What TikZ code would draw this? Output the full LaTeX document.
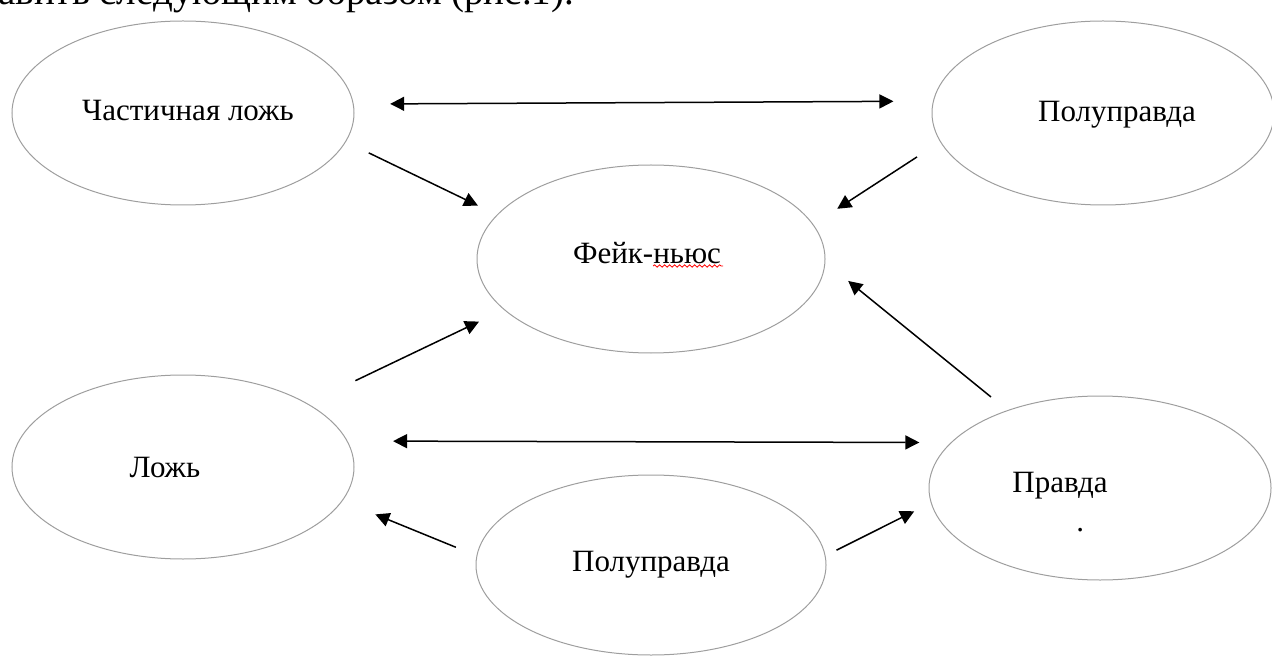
\documentclass[tikz,border=0pt]{standalone}
\usepackage{fontspec}
\setmainfont{Liberation Serif}
\usetikzlibrary{shapes.geometric, arrows.meta, decorations.pathmorphing}

\tikzset{
    oval/.style={ellipse, draw=black!38, line width=0.5pt, minimum width=171pt, minimum height=92pt, inner sep=0pt, outer sep=0pt},
    link/.style={-{Triangle[length=7pt, width=7pt]}, line width=0.75pt},
    both/.style={{Triangle[length=7pt, width=7pt]}-{Triangle[length=7pt, width=7pt]}, line width=0.75pt},
}

\begin{document}
\begin{tikzpicture}[x=0.5pt, y=-0.5pt, font=\fontsize{15.5}{19.5}\selectfont]
    \useasboundingbox (0,0) rectangle (1272,657);
    \clip (0,0) rectangle (1272,657);
    \node[anchor=base west, inner sep=0pt, font=\fontsize{19.5}{22}\selectfont] (intro) at (-2,5) {авить следующим образом (рис.1).};
    \node[oval, label={[xshift=2.5pt, yshift=1pt]center:Частичная ложь}] (chast) at (183,113) {};
    \node[oval, label={[xshift=7pt, yshift=-1pt]center:Полуправда}] (poluTop) at (1103,113) {};
    \node[oval, minimum width=174pt, minimum height=94pt, label={[xshift=-2pt, yshift=3pt]center:Фейк-ньюс}] (fake) at (651,259) {};
    \node[oval, label={[xshift=-9pt]center:Ложь}] (lozh) at (183,467) {};
    \node[oval, label={[xshift=-20pt, yshift=-7pt, align=left]center:Правда\\\hspace*{32pt}.}] (pravda) at (1100,488) {};
    \node[oval, minimum width=175pt, minimum height=90pt] (poluBot) at (651,565) {Полуправда};
    \draw[red, line width=0.4pt, decorate, decoration={snake, amplitude=0.6pt, segment length=2.5pt}] (653,266) -- (723,266);
    \draw[both, shorten <=18.5pt, shorten >=20pt] (chast.3.4) -- (poluTop.176.6);
    \draw[link, shorten <=12.9pt, shorten >=10.75pt] (chast.-10.9) -- (fake.164.5);
    \draw[link, shorten <=14pt, shorten >=14.5pt] (poluTop.-170.7) -- (fake.12.7);
    \draw[link, shorten <=26.75pt, shorten >=14pt] (lozh.27.1) -- (fake.-161.9);
    \draw[link, shorten <=10.8pt, shorten >=15pt] (pravda.140.7) -- (fake.-1.7);
    \draw[both, shorten <=23pt, shorten >=16pt] (lozh.9.75) -- (pravda.163.5);
    \draw[link, shorten <=11.35pt, shorten >=18pt] (poluBot.177.2) -- (lozh.-12.2);
    \draw[link, shorten <=6.4pt, shorten >=9.5pt] (poluBot.3.7) -- (pravda.-175.4);
\end{tikzpicture}
\end{document}
